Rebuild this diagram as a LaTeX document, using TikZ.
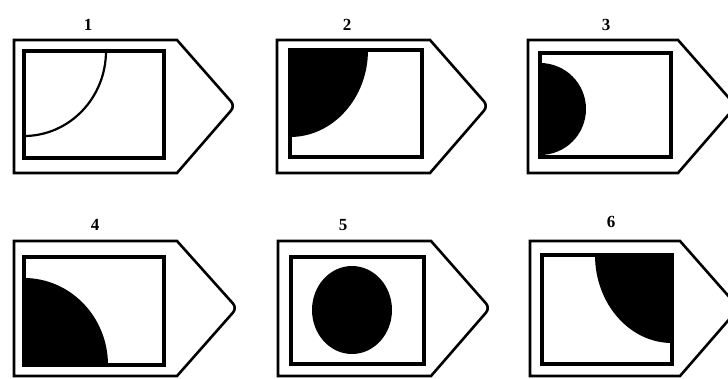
\documentclass[tikz,border=0pt]{standalone}
\usepackage{fontspec}
\setmainfont{Liberation Serif}
\usepackage{tikz}
\usetikzlibrary{calc,positioning}

\begin{document}
\begin{tikzpicture}[x=1pt,y=-1pt,
      tag/.style={draw=black,line width=2.6pt,line join=miter},
      window/.style={draw=black,line width=3.4pt},
      blob/.style={fill=black},
      num/.style={font=\fontsize{17}{19}\selectfont\bfseries,inner sep=1pt}]
    \useasboundingbox (0,0) rectangle (728,379);
    % 1
    \draw[tag] (14,40) -- (177,40) [rounded corners=6pt] -- (235,106) [sharp corners] -- (177,173) -- (14,173) -- cycle;
    \begin{scope}
      \clip (24,51) rectangle (164,158);
      \draw[line width=2.2pt] (24,51) ellipse [x radius=82pt,y radius=85pt];
    \end{scope}
    \draw[window] (24,51) rectangle (164,158);
    \node[num] (n1) at (88,25) {1};
    % 2
    \draw[tag] (277,40) -- (430,40) [rounded corners=6pt] -- (488,106) [sharp corners] -- (430,173) -- (277,173) -- cycle;
    \begin{scope}
      \clip (290,50) rectangle (422,157);
      \fill[blob] (290,50) ellipse [x radius=78pt,y radius=87pt];
    \end{scope}
    \draw[window] (290,50) rectangle (422,157);
    \node[num] (n2) at (347,25) {2};
    % 3
    \draw[tag] (528,40) -- (678,40) [rounded corners=6pt] -- (736,106) [sharp corners] -- (678,173) -- (528,173) -- cycle;
    \begin{scope}
      \clip (540,53) rectangle (671,157);
      \fill[blob] (540,109) ellipse [x radius=46pt,y radius=46pt];
    \end{scope}
    \draw[window] (540,53) rectangle (671,157);
    \node[num] (n3) at (606,25) {3};
    % 4
    \draw[tag] (14,241) -- (177,241) [rounded corners=6pt] -- (237,308) [sharp corners] -- (177,376) -- (14,376) -- cycle;
    \begin{scope}
      \clip (24,257) rectangle (164,365);
      \fill[blob] (24,365) ellipse [x radius=84pt,y radius=87pt];
    \end{scope}
    \draw[window] (24,257) rectangle (164,365);
    \node[num] (n4) at (95,225) {4};
    % 5
    \draw[tag] (278,241) -- (431,241) [rounded corners=6pt] -- (490,308) [sharp corners] -- (431,376) -- (278,376) -- cycle;
    \fill[blob] (352,310) ellipse [x radius=40pt,y radius=44pt];
    \draw[window] (291,257) rectangle (424,364);
    \node[num] (n5) at (343,225) {5};
    % 6
    \draw[tag] (530,241) -- (680,241) [rounded corners=6pt] -- (739,308) [sharp corners] -- (680,376) -- (530,376) -- cycle;
    \begin{scope}
      \clip (542,255) rectangle (672,364);
      \fill[blob] (672,255) ellipse [x radius=77pt,y radius=88pt];
    \end{scope}
    \draw[window] (542,255) rectangle (672,364);
    \node[num] (n6) at (611,222) {6};
\end{tikzpicture}
\end{document}
